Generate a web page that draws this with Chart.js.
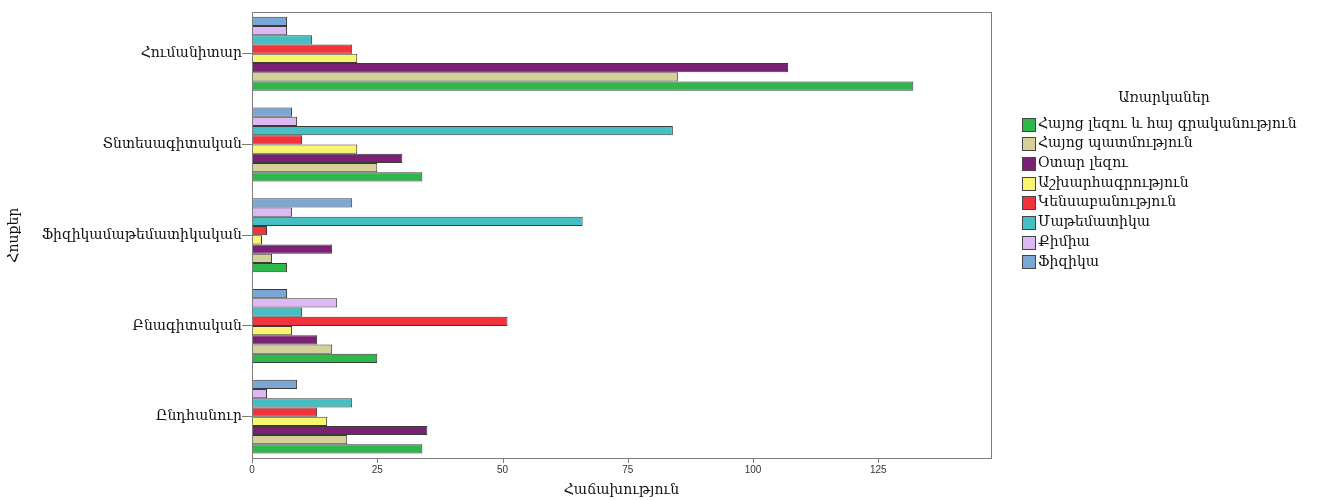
<!DOCTYPE html>
<html>
<head>
<meta charset="utf-8">
<script src="https://cdn.jsdelivr.net/npm/chart.js@4.4.1/dist/chart.umd.min.js"></script>
<style>
  html, body { margin: 0; padding: 0; background: #ffffff; }
  #wrap { width: 1318px; height: 500px; }
</style>
</head>
<body>
<div id="wrap"><canvas id="c" width="1318" height="500"></canvas></div>
<script>
// Categories (top to bottom)
const categories = ['Հումանիտար', 'Տնտեսագիտական', 'Ֆիզիկամաթեմատիկական', 'Բնագիտական', 'Ընդհանուր'];

// Series names in legend order
const seriesNames = [
  'Հայոց լեզու և հայ գրականություն',
  'Հայոց պատմություն',
  'Օտար լեզու',
  'Աշխարհագրություն',
  'Կենսաբանություն',
  'Մաթեմատիկա',
  'Քիմիա',
  'Ֆիզիկա'
];

// Values per series, one value per category (same order as categories)
const hayocLezu        = [132, 34, 7, 25, 34];
const hayocPatmutyun   = [85, 25, 4, 16, 19];
const otarLezu         = [107, 30, 16, 13, 35];
const ashkharhagrutyun = [21, 21, 2, 8, 15];
const kensabanutyun    = [20, 10, 3, 51, 13];
const matematika       = [12, 84, 66, 10, 20];
const kimia            = [7, 9, 8, 17, 3];
const fizika           = [7, 8, 20, 7, 9];

const seriesValues = [hayocLezu, hayocPatmutyun, otarLezu, ashkharhagrutyun, kensabanutyun, matematika, kimia, fizika];
const seriesColors = ['#2EB84A', '#D4D098', '#7A2174', '#FAF56E', '#F2333B', '#46BFC3', '#DDB9F3', '#7BA7D6'];

// X axis ticks
const xTickValues = [0, 25, 50, 75, 100, 125];
const xMax = 147.5;

const xTitle = 'Հաճախություն';
const yTitle = 'Հոսքեր';
const legendTitle = 'Առարկաներ';

const armFont = "'DejaVu Serif', 'Noto Sans', serif";
const textColor = '#111';

// Datasets reversed so that the first legend series is at the bottom of each group
const datasets = seriesNames.map((name, i) => ({
  label: name,
  data: seriesValues[i],
  backgroundColor: seriesColors[i],
  borderColor: '#3a3a3a',
  borderWidth: 1,
  borderSkipped: false,
  legendIndex: i
})).reverse();

const framePlugin = {
  id: 'frameAndLegend',
  afterDraw(chart) {
    const ctx = chart.ctx;
    const a = chart.chartArea;
    const inset = 4;
    const fTop = a.top + inset, fBot = a.bottom - inset;
    ctx.save();
    // plot frame
    ctx.strokeStyle = '#7d7d7d';
    ctx.lineWidth = 1;
    ctx.strokeRect(Math.round(a.left) + 0.5, Math.round(fTop) + 0.5, Math.round(a.right - a.left), Math.round(fBot - fTop));
    // x tick marks
    const xs = chart.scales.x;
    ctx.beginPath();
    xs.ticks.forEach(t => {
      const px = Math.round(xs.getPixelForValue(t.value)) + 0.5;
      ctx.moveTo(px, Math.round(fBot) + 0.5);
      ctx.lineTo(px, Math.round(fBot) + 5);
    });
    ctx.stroke();

    // legend
    const lx = 1022, titleX = 1164, titleY = 98, firstY = 124, step = 19.7, box = 13;
    ctx.fillStyle = textColor;
    ctx.font = "14px " + armFont;
    ctx.textAlign = 'center';
    ctx.textBaseline = 'middle';
    ctx.fillText(legendTitle, titleX, titleY);
    ctx.textAlign = 'left';
    const ordered = chart.data.datasets.slice().sort((p, q) => p.legendIndex - q.legendIndex);
    ordered.forEach((ds, k) => {
      const cy = firstY + k * step;
      const by = Math.round(cy - box / 2) + 0.5;
      ctx.fillStyle = ds.backgroundColor;
      ctx.fillRect(lx + 0.5, by, box, box);
      ctx.strokeStyle = '#444';
      ctx.strokeRect(lx + 0.5, by, box, box);
      ctx.fillStyle = textColor;
      ctx.fillText(ds.label, lx + 16, cy);
    });
    ctx.restore();
  }
};

new Chart(document.getElementById('c'), {
  type: 'bar',
  data: { labels: categories, datasets: datasets },
  options: {
    indexAxis: 'y',
    responsive: false,
    animation: false,
    devicePixelRatio: 1,
    layout: { padding: { left: 0, right: 327, top: 4, bottom: 0 } },
    datasets: { bar: { categoryPercentage: 0.815, barPercentage: 1.0 } },
    plugins: { legend: { display: false }, tooltip: { enabled: false } },
    scales: {
      x: {
        type: 'linear',
        min: 0,
        max: xMax,
        grid: { display: false, drawTicks: false },
        border: { display: false },
        afterBuildTicks: (s) => { s.ticks = xTickValues.map(v => ({ value: v })); },
        afterFit: (s) => { s.height = 38; },
        ticks: {
          padding: 2,
          color: '#333',
          font: { family: "'Liberation Sans Narrow', 'Liberation Sans', sans-serif", size: 10 },
          maxRotation: 0
        },
        title: {
          display: true,
          text: xTitle,
          color: textColor,
          font: { family: armFont, size: 14 },
          padding: { top: 0, bottom: 1 }
        }
      },
      y: {
        type: 'category',
        offset: true,
        grid: { display: true, drawOnChartArea: false, drawTicks: true, tickLength: 10, offset: false, color: '#7d7d7d' },
        border: { display: false },
        afterFit: (s) => { s.width = 252; },
        ticks: {
          padding: 0,
          color: textColor,
          font: { family: armFont, size: 14 }
        },
        title: {
          display: true,
          text: yTitle,
          color: textColor,
          font: { family: armFont, size: 14 },
          padding: { top: 6, bottom: 0 }
        }
      }
    }
  },
  plugins: [framePlugin]
});
</script>
</body>
</html>
